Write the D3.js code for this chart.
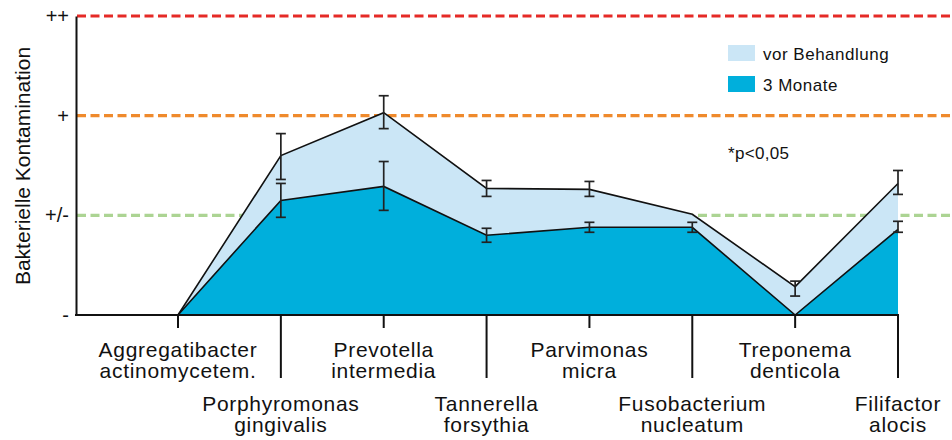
<!DOCTYPE html>
<html>
<head>
<meta charset="utf-8">
<script src="https://cdn.jsdelivr.net/npm/d3@7"></script>
<style>
  body { margin: 0; background: #fff; }
  svg { font-family: "Liberation Sans", Arial, sans-serif; }
</style>
</head>
<body>
<div id="chart"></div>
<script>
// categories (two label lines each)
const categories = [
  ["Aggregatibacter", "actinomycetem."],
  ["Porphyromonas", "gingivalis"],
  ["Prevotella", "intermedia"],
  ["Tannerella", "forsythia"],
  ["Parvimonas", "micra"],
  ["Fusobacterium", "nucleatum"],
  ["Treponema", "denticola"],
  ["Filifactor", "alocis"]
];
const yTickLabels = ["-", "+/-", "+", "++"];

// vor Behandlung
const vorValues = [0, 1.6, 2.03, 1.27, 1.26, 1.01, 0.285, 1.32];
const vorErrLow = [null, 1.36, 1.87, 1.19, 1.19, null, 0.19, 1.21];
const vorErrHigh = [null, 1.82, 2.2, 1.35, 1.34, null, 0.34, 1.45];

// 3 Monate
const monValues = [0, 1.15, 1.29, 0.8, 0.88, 0.88, 0, 0.86];
const monErrLow = [null, 0.98, 1.05, 0.73, 0.83, 0.83, null, 0.83];
const monErrHigh = [null, 1.32, 1.54, 0.87, 0.93, 0.93, null, 0.94];

const legendLabels = ["vor Behandlung", "3 Monate"];
const colors = ["#cbe6f6", "#00afdc"];

const width = 952, height = 440;
const axisX = 76;

const svg = d3.select("#chart").append("svg")
  .attr("width", width)
  .attr("height", height);

const ids = categories.map((c, i) => i);
const x = d3.scalePoint().domain(ids).range([178, 898]);
const y = d3.scaleLinear().domain([0, 3]).range([315, 16]);

// reference lines (behind areas)
const refLines = [
  { v: 1, color: "#acd493" },
  { v: 2, color: "#ef8a2c" },
  { v: 3, color: "#e52a26" }
];
svg.selectAll(".ref")
  .data(refLines)
  .enter()
  .append("line")
  .attr("x1", axisX + 1)
  .attr("x2", width)
  .attr("y1", d => y(d.v))
  .attr("y2", d => y(d.v))
  .style("stroke", d => d.color)
  .style("stroke-width", 3.2)
  .style("stroke-dasharray", "9,4.5");

const area = d3.area()
  .x((d, i) => x(i))
  .y0(y(0))
  .y1(d => y(d));
const line = d3.line()
  .x((d, i) => x(i))
  .y(d => y(d));

[vorValues, monValues].forEach((vals, k) => {
  svg.append("path")
    .datum(vals)
    .attr("d", area)
    .style("fill", colors[k]);
});
[vorValues, monValues].forEach(vals => {
  svg.append("path")
    .datum(vals)
    .attr("d", line)
    .style("fill", "none")
    .style("stroke", "#111")
    .style("stroke-width", 1.6);
});

// error bars
function errBars(lo, hi) {
  const data = ids.filter(i => lo[i] != null).map(i => ({ i, lo: lo[i], hi: hi[i] }));
  const g = svg.append("g")
    .style("stroke", "#222")
    .style("stroke-width", 1.7);
  g.selectAll(".v").data(data).enter().append("line")
    .attr("x1", d => x(d.i)).attr("x2", d => x(d.i))
    .attr("y1", d => y(d.lo)).attr("y2", d => y(d.hi));
  ["lo", "hi"].forEach(key => {
    g.selectAll(".c" + key).data(data).enter().append("line")
      .attr("x1", d => x(d.i) - 5).attr("x2", d => x(d.i) + 5)
      .attr("y1", d => y(d[key])).attr("y2", d => y(d[key]));
  });
}
errBars(vorErrLow, vorErrHigh);
errBars(monErrLow, monErrHigh);

// axes
const yAxis = d3.axisLeft(y)
  .tickValues([0, 1, 2, 3])
  .tickFormat(d => yTickLabels[d])
  .tickSize(0)
  .tickPadding(7);
const yG = svg.append("g")
  .attr("transform", `translate(${axisX},0)`)
  .call(yAxis);
yG.select(".domain").style("stroke", "#111").style("stroke-width", 2);
yG.selectAll("text")
  .style("font-family", "Liberation Sans, Arial, sans-serif")
  .style("font-size", "20px")
  .style("fill", "#111");

svg.append("line")
  .attr("x1", axisX - 1)
  .attr("x2", x(ids.length - 1) + 1)
  .attr("y1", y(0))
  .attr("y2", y(0))
  .style("stroke", "#111")
  .style("stroke-width", 2);

svg.selectAll(".xtick")
  .data(ids)
  .enter()
  .append("line")
  .attr("x1", d => x(d))
  .attr("x2", d => x(d))
  .attr("y1", y(0))
  .attr("y2", d => d % 2 ? 378 : 328)
  .style("stroke", "#111")
  .style("stroke-width", 2);

const labels = svg.selectAll(".xlabel")
  .data(ids)
  .enter()
  .append("text")
  .attr("text-anchor", "middle")
  .attr("x", d => x(d))
  .attr("y", d => d % 2 ? 411 : 357)
  .style("font-size", "21px")
  .style("letter-spacing", "0.7px")
  .style("fill", "#111");
labels.selectAll("tspan")
  .data(d => categories[d].map(t => ({ t, i: d })))
  .enter()
  .append("tspan")
  .attr("x", d => x(d.i))
  .attr("dy", (d, j) => j ? 21 : 0)
  .text(d => d.t);

// y title
svg.append("text")
  .attr("transform", "translate(30,166) rotate(-90)")
  .attr("text-anchor", "middle")
  .style("font-size", "21px")
  .style("fill", "#111")
  .text("Bakterielle Kontamination");

// legend
const legend = svg.selectAll(".legend")
  .data(legendLabels)
  .enter()
  .append("g")
  .attr("transform", (d, i) => `translate(728,${45 + i * 31})`);
legend.append("rect")
  .attr("width", 27)
  .attr("height", 16)
  .style("fill", (d, i) => colors[i]);
legend.append("text")
  .attr("x", 35)
  .attr("y", 15)
  .style("font-size", "17px")
  .style("letter-spacing", "0.5px")
  .style("fill", "#111")
  .text(d => d);

svg.append("text")
  .attr("x", 728)
  .attr("y", 159)
  .style("font-size", "17px")
  .style("letter-spacing", "0.3px")
  .style("fill", "#111")
  .text("*p<0,05");
</script>
</body>
</html>
